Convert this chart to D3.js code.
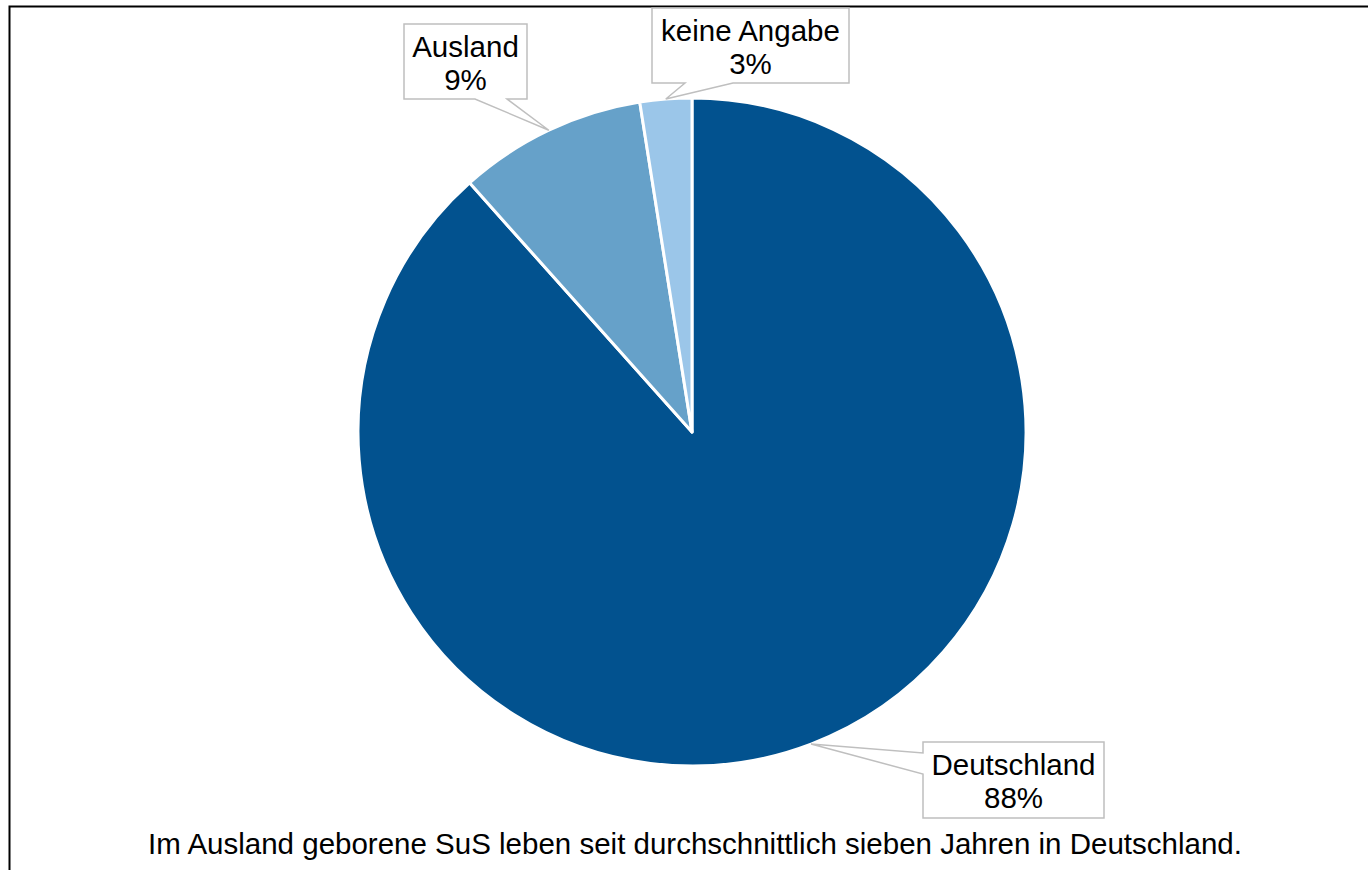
<!DOCTYPE html>
<html>
<head>
<meta charset="utf-8">
<script src="https://cdn.jsdelivr.net/npm/d3@7/dist/d3.min.js"></script>
<style>
  html, body { margin: 0; padding: 0; background: #fff; }
  svg { display: block; }
  text { font-family: "Liberation Sans", Arial, sans-serif; fill: #000; }
</style>
</head>
<body>
<svg width="1368" height="870"></svg>
<script>
// data
const categories = ['Deutschland', 'Ausland', 'keine Angabe'];
const shares = [88.4, 9.1, 2.5];
const shareLabels = ['88%', '9%', '3%'];
const colors = ['#02528f', '#66a1c9', '#9bc6e9'];
const footnote = 'Im Ausland geborene SuS leben seit durchschnittlich sieben Jahren in Deutschland.';

const svg = d3.select('svg');
const width = +svg.attr('width');
const height = +svg.attr('height');

// chart frame (only top + left visible)
svg.append('rect')
    .attr('x', 9.5).attr('y', 6.5)
    .attr('width', width + 20).attr('height', height + 20)
    .attr('fill', 'none')
    .attr('stroke', '#000')
    .attr('stroke-width', 2);

const cx = 692, cy = 432, radius = 334;
const fontSize = 29.5;

const pie = d3.pie().sort(null).value(d => d);
const arcs = pie(shares);
const arc = d3.arc().innerRadius(0).outerRadius(radius);

const g = svg.append('g').attr('transform', `translate(${cx},${cy})`);

g.selectAll('path.slice').data(arcs)
  .enter().append('path')
    .attr('class', 'slice')
    .attr('d', arc)
    .attr('fill', (d, i) => colors[i])
    .attr('stroke', '#fff')
    .attr('stroke-width', 3)
    .attr('stroke-linejoin', 'round');

// callout boxes: box + notch side; tip comes from the arc
const boxes = [
  { x: 923, y: 742, w: 181, h: 76, side: 'left', n1: 753, n2: 774 },
  { x: 404, y: 24, w: 123, h: 75, side: 'bottom', n1: 475, n2: 507 },
  { x: 652, y: 8, w: 197, h: 75, side: 'bottom', n1: 685, n2: 733 }
];

const tipOf = d => {
  const a = (d.startAngle + d.endAngle) / 2;
  return [cx + radius * Math.sin(a), cy - radius * Math.cos(a)];
};

const callout = (b, tip) => {
  const x0 = b.x, y0 = b.y, x1 = b.x + b.w, y1 = b.y + b.h;
  let pts;
  if (b.side === 'bottom') {
    pts = [[x0, y0], [x1, y0], [x1, y1], [b.n2, y1], tip, [b.n1, y1], [x0, y1]];
  } else {
    pts = [[x0, y0], [x1, y0], [x1, y1], [x0, y1], [x0, b.n2], tip, [x0, b.n1]];
  }
  return 'M' + pts.map(p => p.join(',')).join('L') + 'Z';
};

const labels = svg.append('g');
arcs.forEach((d, i) => {
  const b = boxes[i];
  labels.append('path')
    .attr('d', callout(b, tipOf(d)))
    .attr('fill', '#fff')
    .attr('stroke', '#bfbfbf')
    .attr('stroke-width', 1.5);
  const t = labels.append('text')
    .attr('text-anchor', 'middle')
    .attr('font-size', fontSize)
    .attr('x', b.x + b.w / 2)
    .attr('y', b.y + 33);
  t.append('tspan').attr('x', b.x + b.w / 2).text(categories[i]);
  t.append('tspan').attr('x', b.x + b.w / 2).attr('dy', 32.5).text(shareLabels[i]);
});

svg.append('text')
    .attr('x', 695)
    .attr('y', 854)
    .attr('text-anchor', 'middle')
    .attr('font-size', fontSize)
    .text(footnote);
</script>
</body>
</html>
